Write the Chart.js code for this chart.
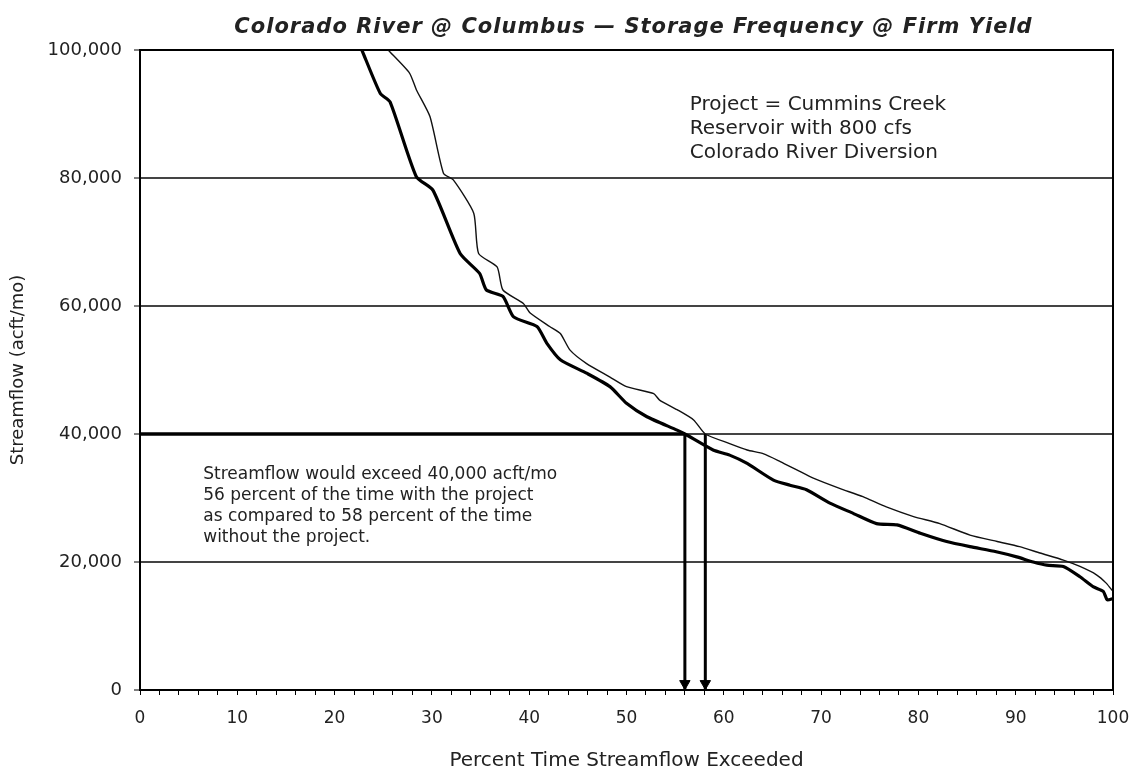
<!DOCTYPE html>
<html>
<head>
<meta charset="utf-8">
<script src="https://cdn.jsdelivr.net/npm/chart.js@4.4.1/dist/chart.umd.min.js"></script>
<style>
  html, body { margin: 0; padding: 0; background: #fff; }
  #wrap { width: 1137px; height: 775px; }
</style>
</head>
<body>
<div id="wrap"><canvas id="chart"></canvas></div>
<script>
// With project (thick) - percent exceeded vs streamflow (acft/mo)
const withProjX = [22.8, 24.7, 25.7, 28.4, 30.1, 32.9, 34.9, 35.6, 37.3, 38.4, 40.8, 41.8, 43.2, 45.9, 48.3, 50.0,
  52.1, 55.2, 56.0, 58.9, 60.6, 62.4, 65.1, 66.8, 68.5, 70.9, 73.3, 75.7, 77.8, 80.2, 82.9, 85.3, 88.0, 90.1,
  91.8, 93.2, 94.9, 96.6, 98.0, 99.0, 99.4, 100];
const withProjY = [100000, 93200, 91900, 80200, 78100, 68200, 65100, 62500, 61500, 58300, 56800, 54200, 51600, 49500, 47400, 44800,
  42700, 40600, 40000, 37500, 36700, 35400, 32800, 32000, 31300, 29200, 27600, 26000, 25800, 24500, 23200, 22400, 21600, 20800,
  20000, 19500, 19300, 17700, 16100, 15400, 14100, 14300];

// Without project (thin)
const withoutProjX = [25.5, 27.7, 28.4, 29.8, 31.2, 32.2, 34.3, 34.8, 36.7, 37.3, 39.4, 40.1, 42.1, 43.2, 44.2, 45.9,
  48.3, 50.0, 52.8, 53.4, 55.2, 56.9, 58.1, 60.6, 62.4, 64.1, 65.8, 67.5, 69.2, 71.9, 74.3, 76.7, 79.5, 82.2, 85.3,
  88.1, 90.4, 92.5, 94.9, 96.6, 98.3, 99.3, 100];
const withoutProjY = [100000, 96400, 93800, 89600, 80700, 79700, 74500, 68200, 66100, 62500, 60400, 58900, 56800, 55700, 53100, 51000,
  48900, 47400, 46300, 45300, 43800, 42200, 40000, 38500, 37500, 36900, 35700, 34400, 33100, 31500, 30200, 28600, 27100, 26000, 24200,
  23200, 22400, 21400, 20300, 19300, 18000, 16700, 15400];

// 40,000 acft/mo reference and the two exceedance percentages
const refFlow = 40000;
const exceedPct = [56.0, 58.1];
const arrowTipFlow = 1000;

const xTicks = [0, 10, 20, 30, 40, 50, 60, 70, 80, 90, 100];
const yTicks = [0, 20000, 40000, 60000, 80000, 100000];

const TITLE = 'Colorado River @ Columbus \u2014 Storage Frequency @ Firm Yield';
const FONT = "'DejaVu Sans', 'Liberation Sans', Arial, sans-serif";

function pts(xs, ys) {
  return xs.map((x, i) => ({ x: x, y: ys[i] }));
}

const datasets = [
  {
    label: 'With project',
    data: pts(withProjX, withProjY),
    borderColor: '#000',
    borderWidth: 3.2,
    pointRadius: 0,
    showLine: true,
    tension: 0.2,
  },
  {
    label: 'Without project',
    data: pts(withoutProjX, withoutProjY),
    borderColor: '#111',
    borderWidth: 1.4,
    pointRadius: 0,
    showLine: true,
    tension: 0.2,
  },
  {
    label: 'ref',
    data: [{ x: 0, y: refFlow }, { x: exceedPct[0], y: refFlow }],
    borderColor: '#000',
    borderWidth: 3.5,
    pointRadius: 0,
    showLine: true,
  },
];
// vertical drop lines + arrowheads
exceedPct.forEach((p) => {
  datasets.push({
    label: 'drop',
    data: [{ x: p, y: refFlow }, { x: p, y: 0 }],
    borderColor: '#000',
    borderWidth: 3,
    pointRadius: 0,
    showLine: true,
  });
  datasets.push({
    label: 'arrow',
    data: [{ x: p, y: arrowTipFlow }],
    pointStyle: 'triangle',
    rotation: 180,
    pointRadius: 6,
    backgroundColor: '#000',
    borderColor: '#000',
    showLine: false,
    clip: false,
  });
});

// frame, title + free text notes
const notes = {
  id: 'notes',
  afterDatasetsDraw(chart) {
    const { ctx, chartArea: a, scales } = chart;
    ctx.save();
    ctx.strokeStyle = '#000';
    ctx.lineWidth = 2;
    ctx.strokeRect(a.left, a.top, a.right - a.left, a.bottom - a.top);

    ctx.fillStyle = '#222';
    ctx.textBaseline = 'middle';
    ctx.textAlign = 'center';
    ctx.font = 'italic bold 21px ' + FONT;
    ctx.letterSpacing = '1px';
    ctx.fillText(TITLE, (a.left + a.right) / 2 + 7, 28);
    ctx.letterSpacing = '0px';

    ctx.textAlign = 'left';
    ctx.font = '20px ' + FONT;
    const p1 = ['Project = Cummins Creek', 'Reservoir with 800 cfs', 'Colorado River Diversion'];
    let x = scales.x.getPixelForValue(56.5);
    let y = scales.y.getPixelForValue(91500);
    p1.forEach((t, i) => ctx.fillText(t, x, y + i * 24));

    ctx.font = '17px ' + FONT;
    const p2 = ['Streamflow would exceed 40,000 acft/mo',
      '56 percent of the time with the project',
      'as compared to 58 percent of the time',
      'without the project.'];
    x = scales.x.getPixelForValue(6.5);
    y = scales.y.getPixelForValue(33600);
    p2.forEach((t, i) => ctx.fillText(t, x, y + i * 21));
    ctx.restore();
  }
};

new Chart(document.getElementById('chart'), {
  type: 'scatter',
  data: { datasets: datasets },
  plugins: [notes],
  options: {
    responsive: true,
    maintainAspectRatio: false,
    animation: false,
    layout: { padding: { top: 50, right: 24, bottom: 0, left: 0 } },
    plugins: {
      legend: { display: false },
      tooltip: { enabled: false },
      title: { display: false },
    },
    scales: {
      x: {
        type: 'linear',
        min: 0,
        max: 100,
        afterFit: (s) => { s.height = 85; s.paddingLeft = 0; s.paddingRight = 0; },
        afterBuildTicks: (s) => {
          const t = [];
          for (let v = 0; v <= 100; v += 2) t.push({ value: v });
          s.ticks = t;
        },
        ticks: {
          autoSkip: false,
          maxRotation: 0,
          color: '#222',
          padding: 13,
          font: { family: FONT, size: 17 },
          callback: (v) => (xTicks.includes(v) ? String(v) : ''),
        },
        grid: { drawOnChartArea: false, drawTicks: true, tickLength: 5, color: '#000', lineWidth: 1 },
        border: { display: true, color: '#000', width: 2 },
        title: {
          display: true,
          text: 'Percent Time Streamflow Exceeded',
          color: '#222',
          font: { family: FONT, size: 20 },
          padding: { top: 4, bottom: 2 },
        },
      },
      y: {
        type: 'linear',
        min: 0,
        max: 100000,
        afterFit: (s) => { s.width = 140; },
        afterBuildTicks: (s) => { s.ticks = yTicks.map((v) => ({ value: v })); },
        ticks: {
          color: '#222',
          padding: 12,
          font: { family: FONT, size: 18 },
          callback: (v) => v.toLocaleString('en-US'),
        },
        grid: { color: '#444', lineWidth: 2, tickLength: 6, tickColor: '#000', tickWidth: 1 },
        border: { display: true, color: '#000', width: 2 },
        title: {
          display: true,
          text: 'Streamflow (acft/mo)',
          color: '#222',
          font: { family: FONT, size: 18 },
          padding: { top: 8, bottom: 0 },
        },
      },
    },
  },
});
</script>
</body>
</html>
